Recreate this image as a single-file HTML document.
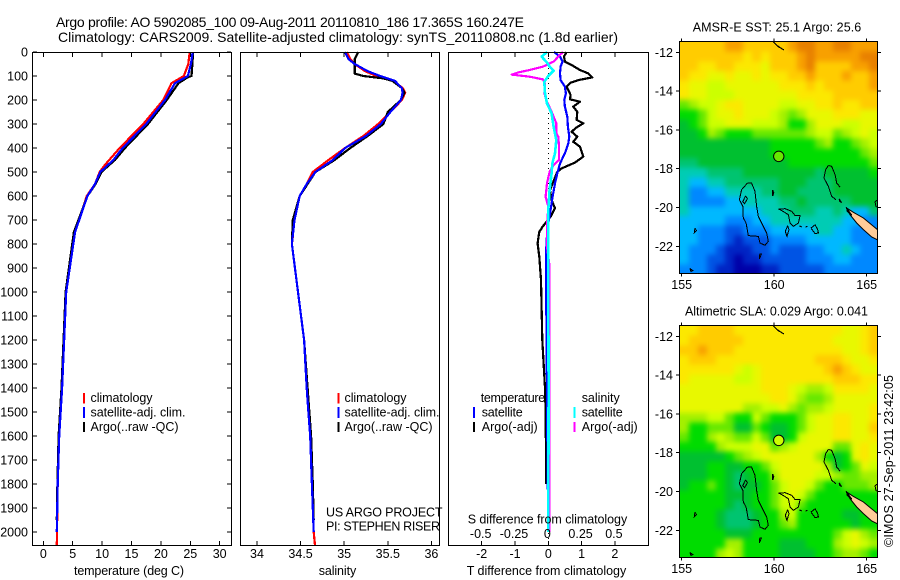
<!DOCTYPE html>
<html lang="en">
<head>
<meta charset="utf-8">
<title>Argo profile 5902085_100</title>
<style>
html,body{margin:0;padding:0;background:#fff;}
svg{display:block;}
text{font-family:"Liberation Sans",sans-serif;font-size:12.5px;fill:#000;}
.hd{font-size:14px;}
</style>
</head>
<body>
<svg id="chart" xmlns="http://www.w3.org/2000/svg" width="900" height="580" viewBox="0 0 900 580">
  <defs>
    <clipPath id="clip-map-1"><rect x="680" y="42" width="198" height="232"/></clipPath>
    <clipPath id="clip-map-2"><rect x="680" y="326" width="198" height="232"/></clipPath>
    <filter id="soften" x="-10%" y="-10%" width="120%" height="120%" color-interpolation-filters="sRGB">
      <feGaussianBlur stdDeviation="2.6"/>
    </filter>
  </defs>
  <rect width="900" height="580" fill="#fff"/>
  <text class="hd" x="56" y="27" textLength="468" lengthAdjust="spacing">Argo profile: AO 5902085_100 09-Aug-2011 20110810_186 17.365S 160.247E</text>
  <text class="hd" x="58" y="42" textLength="560" lengthAdjust="spacing">Climatology: CARS2009. Satellite-adjusted climatology: synTS_20110808.nc (1.8d earlier)</text>

  <g id="panel-t"></g>
  <g id="panel-s"></g>
  <g id="panel-d"></g>
  <g id="map-1"></g>
  <g id="map-2"></g>

  <text x="74" y="575" textLength="110" lengthAdjust="spacing">temperature (deg C)</text>
  <text x="318.7" y="575" textLength="37.5" lengthAdjust="spacing">salinity</text>
  <text x="466.7" y="575" textLength="159.5" lengthAdjust="spacing">T difference from climatology</text>
  <text x="467.7" y="523.5" textLength="159.5" lengthAdjust="spacing">S difference from climatology</text>

  <g>
    <rect x="83" y="393" width="2" height="10.5" fill="#f00"/>
    <rect x="83" y="407" width="2" height="11" fill="#00f"/>
    <rect x="83" y="422" width="2" height="10" fill="#000"/>
    <text x="90.5" y="402" textLength="62" lengthAdjust="spacing">climatology</text>
    <text x="90.5" y="416.5" textLength="95" lengthAdjust="spacing">satellite-adj. clim.</text>
    <text x="90.5" y="431" textLength="88" lengthAdjust="spacing">Argo(..raw -QC)</text>
  </g>
  <g>
    <rect x="337.5" y="393" width="2" height="10.5" fill="#f00"/>
    <rect x="337.5" y="407" width="2" height="11" fill="#00f"/>
    <rect x="337.5" y="422" width="2" height="10" fill="#000"/>
    <text x="344.5" y="402" textLength="62" lengthAdjust="spacing">climatology</text>
    <text x="344.5" y="416.5" textLength="95" lengthAdjust="spacing">satellite-adj. clim.</text>
    <text x="344.5" y="431" textLength="88" lengthAdjust="spacing">Argo(..raw -QC)</text>
  </g>
  <g>
    <text x="480.7" y="402" textLength="64.5" lengthAdjust="spacing">temperature</text>
    <text x="581.7" y="402" textLength="38" lengthAdjust="spacing">salinity</text>
    <rect x="473" y="407" width="2" height="11" fill="#00f"/>
    <rect x="473" y="422" width="2" height="10" fill="#000"/>
    <rect x="573.5" y="407" width="2" height="11" fill="#0ff"/>
    <rect x="573.5" y="422" width="2" height="10" fill="#f0f"/>
    <text x="481.7" y="416.5" textLength="41" lengthAdjust="spacing">satellite</text>
    <text x="481.7" y="431" textLength="56" lengthAdjust="spacing">Argo(-adj)</text>
    <text x="581.7" y="416.5" textLength="41" lengthAdjust="spacing">satellite</text>
    <text x="581.7" y="431" textLength="56" lengthAdjust="spacing">Argo(-adj)</text>
  </g>

  <text x="326" y="516.7" textLength="116.5" lengthAdjust="spacing">US ARGO PROJECT</text>
  <text x="326" y="530.7" textLength="114" lengthAdjust="spacing">PI: STEPHEN RISER</text>

  <text x="692.7" y="31.5" textLength="168.5" lengthAdjust="spacing">AMSR-E SST: 25.1  Argo: 25.6</text>
  <text x="685" y="315.5" textLength="183" lengthAdjust="spacing">Altimetric SLA: 0.029 Argo: 0.041</text>
  <text transform="translate(893,547) rotate(-90)" x="0" y="0" textLength="172" lengthAdjust="spacing">©IMOS 27-Sep-2011 23:42:05</text>
</svg>
<script>
// ---- axis tick data ----
const depthTicks = [0,100,200,300,400,500,600,700,800,900,1000,1100,1200,1300,1400,1500,1600,1700,1800,1900,2000];
const tempTicks = [0,5,10,15,20,25,30];
const salTicks = [34,34.5,35,35.5,36];
const salTickLabels = ['34','34.5','35','35.5','36'];
const tDiffTicks = [-2,-1,0,1,2];
const tDiffLabels = ['-2','-1','0','1','2'];
const sDiffTicks = [-0.5,-0.25,0,0.25,0.5];
const sDiffLabels = ['-0.5','-0.25','0','0.25','0.5'];

// ---- temperature panel data ----
const tClimDepth = [0,50,100,130,200,300,400,470,500,550,600,750,1000,1400,1600,1800,2000,2055];
const tClimVal = [24.9,24.66,23.9,21.8,20.4,17,13,10.5,9.6,8.8,7.4,5.4,3.9,3.2,2.7,2.45,2.33,2.3];
const tArgoDepth = [0,100,105,130,200,300,400,450,480,500,550,600,750,1000,1400,1600,1800,1950];
const tArgoVal = [25.5,25.2,24.6,23,21,17.8,13.9,12.2,10.8,9.9,8.9,7.5,5.2,3.8,3.1,2.6,2.4,2.3];
const tSatDepth = [0,50,100,130,200,300,400,450,480,500,550,600,750,1000,1400,1600,1800,2000];
const tSatVal = [25.4,25.1,24.6,22.4,20.7,17.5,13.5,11.9,10.6,9.7,8.8,7.5,5.4,3.9,3.2,2.7,2.45,2.3];

// ---- salinity panel data ----
const sClimDepth = [0,30,50,80,100,120,150,170,200,250,300,350,400,450,500,550,600,650,700,770,800,1000,1200,1400,1500,1600,1800,2000,2055];
const sClimVal = [35.03,35.07,35.12,35.24,35.37,35.56,35.67,35.7,35.66,35.53,35.39,35.22,35.01,34.82,34.64,34.57,34.49,34.45,34.42,34.41,34.4,34.47,34.54,34.57,34.59,34.61,34.63,34.65,34.665];
const sArgoDepth = [0,30,50,70,90,100,110,120,150,170,200,250,300,350,400,450,500,550,600,700,800,1000,1200,1400,1600,1800,1950];
const sArgoVal = [35.16,35.12,35.12,35.12,35.12,35.22,35.45,35.55,35.66,35.69,35.65,35.5,35.45,35.27,35.07,34.89,34.67,34.58,34.49,34.41,34.4,34.47,34.54,34.58,34.62,34.64,34.65];
const sSatDepth = [0,30,50,80,100,120,150,170,200,250,300,350,400,450,500,550,600,700,800,1000,1200,1400,1500,1600,1800,2000];
const sSatVal = [35.01,35.05,35.12,35.27,35.41,35.58,35.66,35.67,35.65,35.53,35.42,35.25,35.01,34.87,34.67,34.57,34.49,34.43,34.4,34.47,34.54,34.57,34.59,34.61,34.63,34.65];

// ---- difference panel data ----
const dTArgoDepth = [0,19,40,54,75,89,106,117,128,144,158,179,197,207,228,249,283,297,314,332,353,374,394,436,461,485,499,533,575,617,651,686,728,749,797,853,950,1200,1400,1500,1800];
const dTArgoVal = [0.55,0.47,0.5,0.7,0.95,1.2,1.32,0.9,0.67,0.55,0.6,0.67,0.65,0.95,0.75,0.87,0.85,1.05,0.85,0.7,0.87,0.75,0.95,1.05,0.8,0.4,0.27,0.17,0.05,0.1,0.2,0.07,-0.17,-0.27,-0.32,-0.27,-0.22,-0.18,-0.1,-0.08,-0.06];
const dTSatDepth = [0,19,40,61,89,117,144,172,200,228,269,311,353,381,422,464,506,547,603,658,714,783,853,950,1200,1600,2000];
const dTSatVal = [0.17,0.35,0.43,0.37,0.35,0.37,0.5,0.53,0.48,0.5,0.57,0.59,0.63,0.6,0.5,0.35,0.27,0.2,0.13,0.07,0,-0.05,-0.07,-0.07,-0.05,-0.03,0];
const dSArgoDepth = [0,19,40,61,75,85,94,103,114,131,172,207,249,297,339,353,394,450,471,499,547,603,644,728,811,894,950,1400,2000];
const dSArgoVal = [0.11,0.075,0.04,-0.04,-0.14,-0.225,-0.275,-0.14,-0.04,-0.025,-0.03,-0.01,0.025,0.06,0.06,0.075,0.08,0.08,0.04,0.01,-0.01,-0.02,0,-0.01,-0.01,0.01,0.01,0.01,0.01];
const dSSatDepth = [0,19,44,61,78,100,124,172,214,256,311,367,422,464,506,575,658,783,950,1400,2000];
const dSSatVal = [-0.01,-0.05,-0.01,0.01,0.04,0,-0.03,-0.025,-0.01,0.025,0.04,0.06,0.05,0.03,0.025,0.01,0,0,0,0.002,0];

// ---- map data ----
const lonTicks = [155,160,165];
const latTicks = [-12,-14,-16,-18,-20,-22];
const argoLon = 160.247;
const argoLat = -17.365;
const levelColors = ['#0000a8','#0024c4','#0054e4','#0088ff','#00b8ff','#00ccb4','#00c470','#00c030','#00dc00','#66e800','#a4f000','#ccff00','#e8f800','#fce800','#ffcc00','#f8a000','#e88000'];
const sstLevels = [
[14,14,14,14,14,15,15,14,14,14,14,14,15,16,16,15,15,16,16,15,15,15],
[14,14,14,14,14,14,14,13,14,13,14,14,14,15,16,15,15,15,15,15,16,16],
[14,14,13,13,14,14,13,13,13,12,14,14,14,15,16,14,14,14,14,15,15,16],
[14,13,13,12,12,13,12,12,13,12,13,13,14,14,15,14,14,14,15,14,14,15],
[13,12,12,11,11,12,12,12,12,12,12,13,13,13,14,13,14,14,14,14,14,15],
[13,12,12,11,11,11,12,12,12,12,12,12,12,13,13,13,13,14,14,14,14,14],
[9,10,11,11,12,13,13,12,12,12,12,11,11,12,12,13,13,14,13,13,14,14],
[8,8,9,11,12,12,13,12,12,12,11,10,9,10,12,12,12,13,13,13,12,12],
[7,8,9,11,11,12,12,12,11,11,11,10,8,8,10,12,12,12,11,11,12,12],
[7,7,8,10,9,8,8,8,9,9,9,9,9,9,10,11,11,9,10,11,12,11],
[7,7,7,7,7,7,7,7,7,7,8,8,8,8,8,9,10,8,8,9,10,11],
[7,7,7,7,7,7,7,7,7,7,8,8,8,8,8,8,8,8,8,8,9,10],
[6,6,7,7,7,7,7,7,7,7,7,7,8,8,8,8,8,8,8,8,8,9],
[5,5,5,6,6,6,6,7,7,7,7,7,7,7,7,6,7,7,7,7,7,8],
[5,4,4,5,5,6,6,6,6,6,6,7,7,7,6,6,6,7,7,7,7,7],
[5,3,3,4,4,5,5,5,5,6,6,7,7,6,6,6,6,7,7,7,7,7],
[5,3,3,3,3,4,4,5,5,5,5,6,6,7,6,6,6,6,6,7,7,7],
[5,4,4,4,4,4,4,4,4,5,5,5,6,6,6,5,5,6,5,4,4,6],
[4,4,4,4,4,3,3,3,4,4,5,5,5,5,5,5,5,5,4,4,3,3],
[4,4,3,3,3,2,2,3,3,3,4,4,4,4,4,5,5,4,4,3,3,3],
[4,4,3,3,3,2,1,2,2,2,3,3,3,3,4,4,4,4,4,3,3,3],
[4,3,3,3,2,1,1,1,2,2,3,2,2,2,3,3,4,4,5,4,3,3],
[4,3,3,2,2,1,0,1,1,2,2,2,2,2,3,3,3,4,4,3,3,3],
[3,3,3,2,1,1,0,0,0,1,1,2,2,2,2,2,3,3,3,3,3,3]
];
const slaLevels = [
[13,13,14,14,14,14,13,13,13,13,13,13,13,13,13,13,13,13,12,12,13,14],
[13,14,14,14,14,14,14,13,13,13,13,13,13,13,13,13,13,12,12,12,13,14],
[14,14,15,14,14,14,13,13,13,13,13,13,13,13,13,13,13,13,12,12,13,14],
[13,14,14,14,13,13,13,13,13,13,13,13,13,13,13,14,14,14,13,12,12,13],
[13,13,13,13,13,13,12,11,12,13,13,13,13,13,13,13,14,15,14,13,12,12],
[13,12,12,12,12,12,11,11,12,13,13,13,13,13,13,13,13,14,14,14,13,13],
[12,12,12,12,12,12,12,12,12,13,13,13,12,11,10,10,11,13,13,13,13,12],
[12,12,12,12,12,12,12,12,12,12,13,13,12,10,9,9,10,12,12,12,12,12],
[12,12,12,12,12,12,12,10,10,11,11,12,10,9,10,10,11,12,12,12,12,13],
[10,10,10,11,11,9,8,8,11,9,8,8,8,9,11,12,12,13,13,12,12,13],
[10,8,8,9,9,9,7,7,9,8,7,7,8,9,11,12,12,13,13,12,12,14],
[9,8,8,10,11,10,9,9,11,9,7,7,8,11,12,12,12,13,13,12,12,13],
[8,8,8,8,10,11,11,11,12,12,9,10,11,12,12,12,12,9,9,12,13,12],
[7,7,7,7,7,8,9,10,11,12,12,12,12,12,12,10,8,7,8,12,13,12],
[7,7,7,8,8,7,7,8,8,9,11,12,12,12,12,12,10,7,8,9,12,11],
[7,7,7,8,8,7,6,7,8,8,10,12,12,12,12,11,11,10,9,9,10,10],
[7,8,8,9,8,7,6,7,7,8,9,11,12,12,11,9,8,8,9,9,9,10],
[8,8,8,8,8,7,7,7,8,8,9,11,12,11,9,8,8,8,8,8,8,8],
[8,8,8,8,8,7,6,7,8,8,9,11,11,9,8,8,8,8,8,8,8,8],
[8,8,8,8,7,6,6,6,7,8,8,10,11,8,8,8,8,8,7,7,8,8],
[8,8,8,8,7,6,6,6,7,8,8,9,10,8,8,8,8,8,8,7,8,8],
[8,8,8,8,8,7,7,7,8,8,8,8,8,8,8,8,8,9,11,12,10,9],
[8,8,8,8,8,10,10,8,8,8,8,7,7,7,8,8,8,10,11,12,11,10],
[8,8,8,8,10,11,10,8,8,8,8,7,7,7,7,8,8,9,10,10,9,8]
];
const coastOutlines = [
[[158.55,-18.74],[158.78,-18.74],[158.96,-19.17],[159.05,-19.94],[159.14,-20.46],[159.41,-20.97],[159.59,-21.31],[159.68,-21.74],[159.5,-21.95],[159.23,-21.83],[159.14,-21.49],[158.6,-21.45],[158.48,-20.8],[158.33,-20.54],[158.3,-19.94],[158.12,-19.6],[158.24,-19.08],[158.55,-18.74]],
[[158.45,-19.4],[158.55,-19.55],[158.4,-19.8],[158.3,-19.7],[158.45,-19.4]],
[[162.93,-17.83],[163.11,-17.88],[163.29,-18.31],[163.38,-18.74],[163.56,-18.95]],
[[163.34,-19.6],[163.11,-19.43],[162.93,-18.91],[162.69,-18.48],[162.78,-18.05],[162.93,-17.83]],
[[160.23,-20.08],[160.59,-20.06],[160.95,-20.2],[161.13,-20.42],[161.4,-20.42],[161.31,-20.8],[161.04,-20.97],[160.86,-20.8],[160.77,-20.37],[160.41,-20.16],[160.23,-20.08]],
[[160.73,-20.94],[160.8,-21.14],[160.69,-21.49],[160.6,-21.23],[160.73,-20.94]],
[[161.99,-21.06],[162.21,-20.89],[162.35,-21.14],[162.39,-21.31],[162.21,-21.35],[161.99,-21.06]],
[[161.35,-20.95],[161.5,-21]],
[[161.7,-21],[161.8,-20.98]],
[[159.92,-11.42],[160.15,-11.65],[160.53,-11.88],[160.2,-11.7],[159.92,-11.42]],
[[159.92,-19.1],[159.98,-19.25],[159.92,-19.4],[159.92,-19.1]],
[[155.72,-21.06],[155.8,-21.2],[155.68,-21.3],[155.72,-21.06]],
[[159.2,-22.65],[159.3,-22.4],[159.22,-22.4],[159.2,-22.65]],
[[155.45,-23.15],[155.6,-23.25],[155.5,-23.3],[155.45,-23.15]],
[[165.6,-19.6],[165.45,-19.7],[165.5,-19.95],[165.6,-20]],
[[163.5,-19.55],[163.65,-19.75],[163.55,-19.7],[163.5,-19.55]],
[[163.9,-20],[164.2,-20.4],[163.95,-20.2],[163.9,-20]]
];
const landPolygon = [[163.92,-20.03],[164.28,-20.25],[164.82,-20.54],[165.36,-20.97],[165.7,-21.23],[165.7,-21.72],[165.27,-21.52],[164.82,-21.14],[164.46,-20.8],[164.1,-20.37],[163.92,-20.03]];

const svgNS = 'http://www.w3.org/2000/svg';
const yD = d => 52 + d * 0.24;
const xT = t => 43.3 + t * 5.88;
const xS = s => 257 + (s - 34) * 87.2;
const xDT = t => 548.3 + t * 33.3;
const xDS = s => 548.3 + s * 133.2;
const xLon = lon => 681.7 + (lon - 155) * 18.5;

function mk(tag, attrs, parent) {
  const n = document.createElementNS(svgNS, tag);
  for (const k in attrs) n.setAttribute(k, attrs[k]);
  parent.appendChild(n);
  return n;
}
function tickLine(x1, y1, x2, y2, parent) {
  const el = mk('line', {x1: x1, y1: y1, x2: x2, y2: y2, stroke: '#000', 'stroke-width': 1, 'shape-rendering': 'crispEdges'}, parent);
  
  
}
function label(str, x, y, anchor, parent) {
  const el = mk('text', {x: x, y: y, 'text-anchor': anchor}, parent);
  el.textContent = str;
  
  
}
function frame(x, y, w, h, parent) {
  const el = mk('rect', {x: x, y: y, width: w, height: h, fill: 'none', stroke: '#000', 'stroke-width': 1, 'shape-rendering': 'crispEdges'}, parent);
  
  
}
function profile(depths, vals, xf, color, width, parent) {
  const pts = depths.map((d, i) => xf(vals[i]).toFixed(1) + ',' + yD(d).toFixed(1)).join(' ');
  const el = mk('polyline', {points: pts, fill: 'none', stroke: color, 'stroke-width': width, 'stroke-linejoin': 'round', 'shape-rendering': 'crispEdges'}, parent);
  
  
}

// temperature panel
const gT = document.getElementById('panel-t');
profile(tClimDepth, tClimVal, xT, '#f00', 2.2, gT);
profile(tArgoDepth, tArgoVal, xT, '#000', 2.2, gT);
profile(tSatDepth, tSatVal, xT, '#00f', 2.2, gT);
frame(32.5, 52.5, 199, 493, gT);
depthTicks.forEach(d => {
  tickLine(33, yD(d), 37, yD(d), gT);
  tickLine(227, yD(d), 231, yD(d), gT);
  label(String(d), 28, yD(d) + 4.5, 'end', gT);
});
tempTicks.forEach(t => {
  tickLine(xT(t), 53, xT(t), 57, gT);
  tickLine(xT(t), 541, xT(t), 545, gT);
  label(String(t), xT(t), 558, 'middle', gT);
});

// salinity panel
const gS = document.getElementById('panel-s');
profile(sClimDepth, sClimVal, xS, '#f00', 2.2, gS);
profile(sArgoDepth, sArgoVal, xS, '#000', 2.2, gS);
profile(sSatDepth, sSatVal, xS, '#00f', 2.2, gS);
frame(240.5, 52.5, 199, 493, gS);
salTicks.forEach((s, i) => {
  tickLine(xS(s), 53, xS(s), 57, gS);
  tickLine(xS(s), 541, xS(s), 545, gS);
  label(salTickLabels[i], xS(s), 558, 'middle', gS);
});

// difference panel
const gD = document.getElementById('panel-d');
const zeroLine = mk('line', {x1: xDT(0), y1: 53, x2: xDT(0), y2: 545, stroke: '#000', 'stroke-width': 1, 'stroke-dasharray': '1 4', 'shape-rendering': 'crispEdges'}, gD);


profile(dTArgoDepth, dTArgoVal, xDT, '#000', 2.2, gD);
profile(dTSatDepth, dTSatVal, xDT, '#00f', 2.2, gD);
profile(dSArgoDepth, dSArgoVal, xDS, '#f0f', 2.2, gD);
profile(dSSatDepth, dSSatVal, xDS, '#0ff', 2.6, gD);
frame(448.5, 52.5, 200, 493, gD);
tDiffTicks.forEach((t, i) => {
  tickLine(xDT(t), 53, xDT(t), 57, gD);
  tickLine(xDT(t), 541, xDT(t), 545, gD);
  label(tDiffLabels[i], xDT(t), 558, 'middle', gD);
});
sDiffTicks.forEach((s, i) => {
  label(sDiffLabels[i], xDS(s) - 1, 538, 'middle', gD);
});

// maps
function drawMap(id, clipId, top, lat12Y, levels, circleFill) {
  const g = document.getElementById(id);
  const latY = lat => lat12Y + (-12 - lat) * 19.4;
  const nRows = levels.length;
  const nCols = levels[0].length;
  const cellW = 198 / nCols;
  const cellH = 232 / nRows;
  const bleed = 12;
  const clipped = mk('g', {'clip-path': 'url(#' + clipId + ')'}, g);
  
  
  const heat = mk('g', {filter: 'url(#soften)'}, clipped);
  
  
  levels.forEach((row, r) => {
    row.forEach((v, c) => {
      const x0 = 680 + c * cellW - (c === 0 ? bleed : 0);
      const y0 = top + r * cellH - (r === 0 ? bleed : 0);
      const x1 = 680 + (c + 1) * cellW + (c === nCols - 1 ? bleed : 0.5);
      const y1 = top + (r + 1) * cellH + (r === nRows - 1 ? bleed : 0.5);
      const cell = mk('rect', {x: x0, y: y0, width: x1 - x0, height: y1 - y0, fill: levelColors[v], 'shape-rendering': 'crispEdges'}, heat);
      
      
    });
  });
  const coast = mk('g', {'clip-path': 'url(#' + clipId + ')'}, g);
  
  
  const land = mk('polygon', {points: landPolygon.map(p => xLon(p[0]).toFixed(1) + ',' + latY(p[1]).toFixed(1)).join(' '), fill: '#ffcc99', stroke: '#000', 'stroke-width': 1}, coast);
  
  
  coastOutlines.forEach(line => {
    const el = mk('polyline', {points: line.map(p => xLon(p[0]).toFixed(1) + ',' + latY(p[1]).toFixed(1)).join(' '), fill: 'none', stroke: '#000', 'stroke-width': 1, 'shape-rendering': 'crispEdges'}, coast);
    
    
  });
  const dot = mk('circle', {cx: xLon(argoLon), cy: latY(argoLat), r: 5.2, fill: circleFill, stroke: '#000', 'stroke-width': 1}, g);
  
  
  frame(679.5, top - 0.5, 198, 232, g);
  lonTicks.forEach(lon => {
    tickLine(xLon(lon), top - 3.5, xLon(lon), top - 0.5, g);
    tickLine(xLon(lon), top + 231.5, xLon(lon), top + 234.5, g);
    label(String(lon), xLon(lon), top + 247, 'middle', g);
  });
  latTicks.forEach(lat => {
    tickLine(676, latY(lat), 679.5, latY(lat), g);
    tickLine(877.5, latY(lat), 881, latY(lat), g);
    label(String(lat), 673, latY(lat) + 4.5, 'end', g);
  });
}
drawMap('map-1', 'clip-map-1', 42, 52.3, sstLevels, '#66e800');
drawMap('map-2', 'clip-map-2', 326, 336.3, slaLevels, '#ccff00');
</script>
</body>
</html>
